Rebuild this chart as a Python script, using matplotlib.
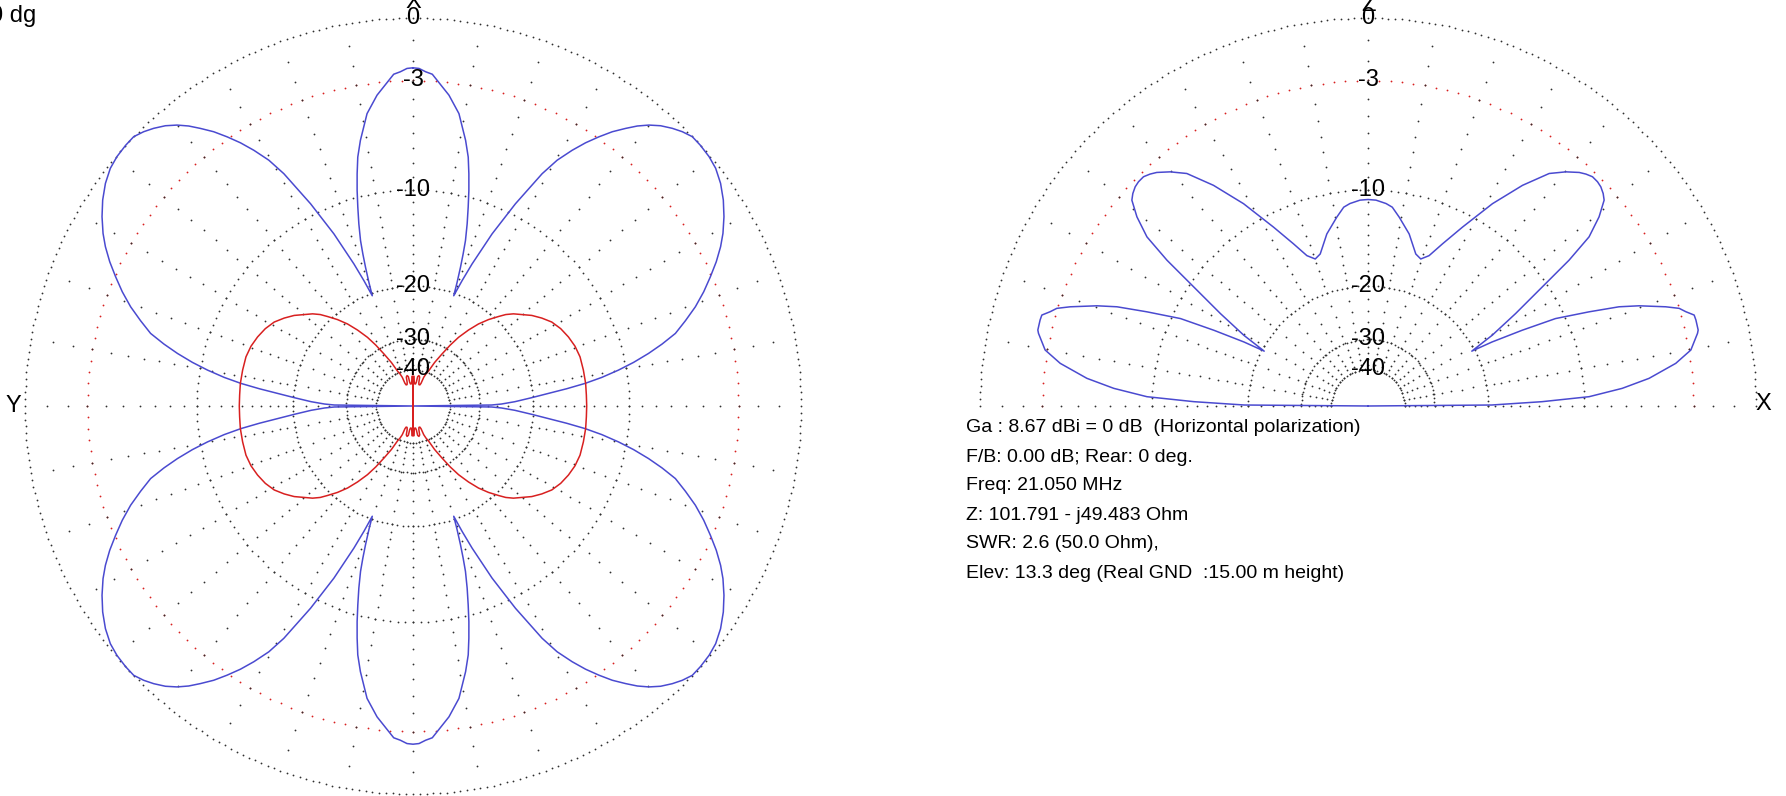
import numpy as np
import matplotlib
matplotlib.use("Agg")
import matplotlib.pyplot as plt

plt.rcParams['font.family'] = ['Liberation Sans', 'DejaVu Sans']

W, H = 1786, 796
R = 388                       # plot radius, px
LEFT_C = (413, 406)           # centre of azimuth plot, px
RIGHT_C = (1368, 406)         # centre of elevation plot, px

RING_LEVELS = [0, -3, -10, -20, -30, -40]
RING_LABELS = ["0", "-3", "-10", "-20", "-30", "-40"]
RING_STEP = [1, 2, 2, 2.5, 3.5, 5]      # deg between grid dots on each ring

# azimuth pattern, horizontal pol. (deg from X axis, dB) - one quadrant, pattern is symmetric
az_h_deg = [0, 1.02, 2.17, 3.33, 5.25, 6.6, 8.93, 10.02, 11.2, 12.51, 13.53, 14.53, 15.51,
            16.56, 17.6, 18.25, 18.9, 19.63, 20.27, 21.38, 22.58, 23.74, 24.68, 25.87,
            26.86, 28.05, 29.07, 30.39, 31.9, 33.25, 34.63, 36.0, 37.45, 38.7, 40.02,
            41.46, 43.04, 44.47, 46.04, 47.78, 49.89, 51.86, 54.1, 56.43, 58.67, 60.88,
            62.62, 64.56, 66.51, 68.55, 70.64, 72.62, 74.54, 76.04, 77.42, 78.82, 80.09,
            81.39, 82.52, 83.59, 84.68, 86.0, 87.58, 88.72, 89.28, 90]
az_h_db = [-2.35, -2.38, -2.54, -2.65, -3.27, -3.68, -4.63, -5.38, -6.15, -7.18, -8.30,
           -9.49, -10.79, -12.2, -13.75, -15.12, -16.63, -18.5, -20.38, -18.08, -15.8,
           -13.94, -12.25, -10.66, -9.19, -7.78, -6.47, -5.28, -4.33, -3.58, -2.92, -2.31,
           -1.78, -1.34, -0.96, -0.63, -0.36, -0.16, 0.0, 0.0, -0.04, -0.14, -0.37, -0.70,
           -1.09, -1.53, -1.94, -2.47, -3.07, -3.71, -4.44, -5.25, -6.06, -7.07, -8.12,
           -9.33, -10.61, -12.12, -13.75, -15.71, -17.92, -20.19, -22.8, -25.2, -27.2, -99]

# azimuth pattern, vertical pol.
az_v_deg = [0, 0.5, 2.0, 3.0, 4.5, 6.5, 8.0, 9.0, 11.0, 13.0, 14.0, 15.5, 18.0, 19.5,
            20.5, 22.0, 23.96, 26.39, 29.1, 31.42, 33.56, 36.15, 38.6, 41.14, 43.7, 45.41,
            47.46, 52.68, 55.67, 58.82, 62.36, 66.04, 69.75, 73.6, 78.1, 82.55, 86.4, 90]
az_v_db = [-99, -43.5, -43.5, -47.0, -48.3, -48.3, -47.0, -43.5, -42.8, -43.5, -47.0,
           -48.3, -48.3, -47.0, -43.0, -41.0, -39.3, -35.34, -31.95, -28.84, -26.4, -24.16,
           -22.3, -20.79, -19.5, -18.63, -17.86, -16.3, -15.57, -14.9, -14.43, -14.09,
           -13.83, -13.69, -13.69, -13.69, -13.73, -13.73]

# elevation pattern (deg above horizon, dB) - 0..90, mirrored for 90..180
el_deg = [0, 0.46, 1.42, 2.41, 3.97, 5.62, 7.89, 9.84, 12.43, 12.96, 14.69, 15.58, 16.52,
          17.42, 18.43, 20.29, 21.57, 23.08, 25.0, 26.17, 27.3, 27.86, 29.66, 32.05, 34.34,
          35.95, 37.42, 39.3, 41.08, 42.1, 43.27, 44.33, 45.6, 46.78, 47.87, 49.8, 52.07,
          55.0, 58.4, 62.17, 65.34, 67.89, 70.26, 72.55, 76.54, 80.6, 83.04, 84.9, 87.78, 90]
el_db = [-99, -19.5, -13.7, -9.6, -7.19, -5.43, -3.80, -2.89, -2.39, -2.32, -2.31, -2.33,
         -2.69, -2.97, -3.63, -5.04, -6.21, -8.20, -10.75, -13.93, -17.46, -20.4, -17.07,
         -13.7, -10.41, -7.63, -5.68, -4.48, -3.66, -3.46, -3.31, -3.25, -3.25, -3.39,
         -3.57, -4.03, -4.70, -6.24, -8.39, -11.14, -13.28, -14.89, -15.54, -15.2, -13.42,
         -12.08, -11.3, -11.05, -10.82, -10.78]

INFO = ["Ga : 8.67 dBi = 0 dB  (Horizontal polarization)",
        "F/B: 0.00 dB; Rear: 0 deg.",
        "Freq: 21.050 MHz",
        "Z: 101.791 - j49.483 Ohm",
        "SWR: 2.6 (50.0 Ohm),",
        "Elev: 13.3 deg (Real GND  :15.00 m height)"]

BLUE = "#4a4ad0"
RED = "#d82020"
GRID = "#303030"


def arrl(db):      # ARRL log-periodic scale: 0.89 per 2 dB
    return np.power(0.89, -np.asarray(db, dtype=float) / 2.0)


def arrl_inv(r):
    r = np.clip(np.asarray(r, dtype=float), 1e-12, None)
    return -2.0 * np.log(r) / np.log(0.89)


def quad4(deg, db):  # four-fold symmetric pattern from one quadrant
    d = np.array(deg); v = np.array(db)
    th = np.concatenate([d, 180 - d[::-1], 180 + d, 360 - d[::-1]])
    r = np.concatenate([v, v[::-1], v, v[::-1]])
    return np.deg2rad(th), r


def half2(deg, db):  # mirror 0..90 into 0..180
    d = np.array(deg); v = np.array(db)
    th = np.concatenate([d, 180 - d[::-1]])
    r = np.concatenate([v, v[::-1]])
    return np.deg2rad(th), r


def make_ax(fig, c):
    ax = fig.add_axes([(c[0] - R) / W, (H - c[1] - R) / H, 2 * R / W, 2 * R / H],
                      projection='polar')
    ax.set_rscale('function', functions=(arrl, arrl_inv))
    ax.set_ylim(-100, 0)
    ax.axis('off')
    return ax


def draw_grid(ax, a0, a1):
    for lvl, step in zip(RING_LEVELS, RING_STEP):
        th = np.deg2rad(np.arange(a0, a1 + 0.01, step))
        ax.plot(th, np.full(th.size, lvl), ls='none', marker='o', ms=1.3, mew=0,
                color=RED if lvl == -3 else GRID, clip_on=False)
    rr = np.concatenate([np.arange(-1, -20, -1), np.arange(-20, -41, -2)])
    for a in np.arange(a0, a1 + 0.01, 10):
        ax.plot(np.full(rr.size, np.deg2rad(a)), rr, ls='none', marker='o', ms=1.3,
                mew=0, color=GRID, clip_on=False)


fig = plt.figure(figsize=(W / 100, H / 100), dpi=100)

# ---- azimuth plot ----
ax1 = make_ax(fig, LEFT_C)
ax1.set_theta_zero_location('N')
ax1.set_theta_direction(1)
draw_grid(ax1, 0, 359)
th, r = quad4(az_h_deg, az_h_db)
ax1.plot(th, r, color=BLUE, lw=1.1, clip_on=False)
th, r = quad4(az_v_deg, az_v_db)
ax1.plot(th, r, color=RED, lw=1.1, clip_on=False)
for lvl, lab in zip(RING_LEVELS, RING_LABELS):
    ax1.text(0, lvl, lab, ha='center', va='center', fontsize=17, color='black')

# ---- elevation plot ----
ax2 = make_ax(fig, RIGHT_C)
ax2.set_theta_zero_location('E')
ax2.set_theta_direction(1)
draw_grid(ax2, 0, 180)
th, r = half2(el_deg, el_db)
ax2.plot(th, r, color=BLUE, lw=1.1, clip_on=False)
for lvl, lab in zip(RING_LEVELS, RING_LABELS):
    ax2.text(np.pi / 2, lvl, lab, ha='center', va='center', fontsize=17, color='black')

# axis names and header
fig.text(LEFT_C[0] / W, 1 - 2 / H, "X", ha='center', va='center', fontsize=17)
fig.text(13 / W, 1 - 406 / H, "Y", ha='center', va='center', fontsize=17)
fig.text(RIGHT_C[0] / W, 1 - 5 / H, "Z", ha='center', va='center', fontsize=17)
fig.text(1763 / W, 1 - 404 / H, "X", ha='center', va='center', fontsize=17)
fig.text(-10 / W, 1 - 16 / H, "0 dg", ha='left', va='center', fontsize=17)

for i, line in enumerate(INFO):
    fig.text(966 / W, 1 - (428 + i * 29) / H, line, ha='left', va='center', fontsize=14)

fig.savefig("out.png", dpi=100)
